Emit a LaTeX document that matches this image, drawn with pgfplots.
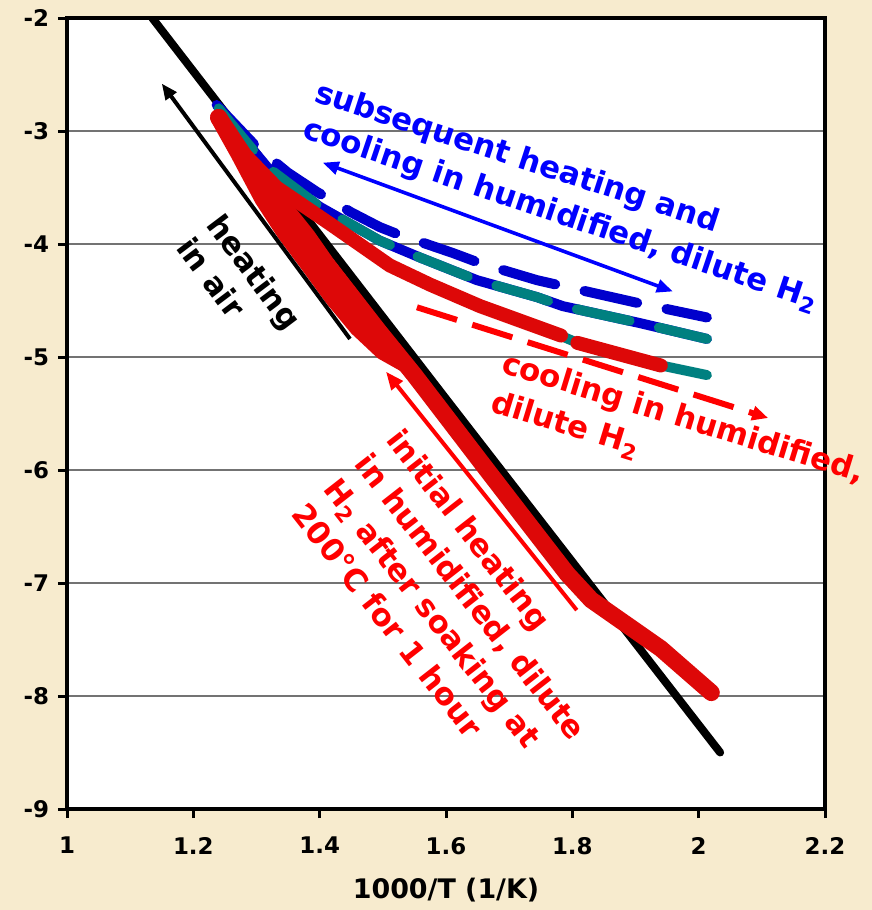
\documentclass[border=0pt]{standalone}
\usepackage{fontspec}
\setmainfont{DejaVu Sans}
\usepackage{pgfplots}
\pgfplotsset{compat=1.18}
\usetikzlibrary{arrows.meta}
\definecolor{bg}{RGB}{247,235,206}
\definecolor{lblue}{RGB}{0,0,204}
\definecolor{tblue}{RGB}{0,0,255}
\definecolor{tealc}{RGB}{0,128,128}
\definecolor{dred}{RGB}{221,8,8}
\definecolor{tred}{RGB}{255,0,0}
\newcommand{\annfont}{\fontsize{15.5}{19}\selectfont\bfseries}
\begin{document}
\begin{tikzpicture}
\fill[bg] (0,0) rectangle (436bp,455bp);
\begin{axis}[
  at={(33.5bp,50.5bp)}, anchor=south west,
  scale only axis, width=379bp, height=395.5bp,
  xmin=1, xmax=2.2, ymin=-9, ymax=-2,
  axis background/.style={fill=white},
  xtick={1,1.2,1.4,1.6,1.8,2,2.2}, ytick={-9,-8,-7,-6,-5,-4,-3,-2},
  /pgf/number format/assume math mode=true,
  tick label style={font=\fontsize{11.5}{13}\selectfont\bfseries},
  xticklabel style={yshift=-6bp},
  yticklabel style={xshift=-1bp},
  tick align=outside, tick pos=left,
  major tick length=4.5bp,
  tick style={line width=1.5bp, black},
  axis line style={line width=1.8bp},
  ymajorgrids, grid style={line width=0.6bp, black!55},
  xlabel={1000/T (1/K)},
  xlabel style={font=\fontsize{13.5}{15}\selectfont\bfseries, at={(axis description cs:0.5,0)}, anchor=north, yshift=-34.5bp, inner sep=0pt},
  clip mode=individual,
  every axis plot/.append style={line cap=round, line join=round},
]
% heating in air (black)
\addplot[black, line width=4bp] coordinates {(1.135,-2.0) (1.6,-5.37) (2.034,-8.5)};
% subsequent heating: blue dashed (upper)
\addplot[lblue, line width=5bp, dash pattern=on 27bp off 15bp] coordinates {
 (1.237,-2.77) (1.30,-3.14) (1.35,-3.37) (1.396,-3.54) (1.45,-3.72) (1.495,-3.85)
 (1.522,-3.91) (1.611,-4.08) (1.654,-4.17) (1.744,-4.32) (1.791,-4.38) (1.902,-4.52) (2.013,-4.65)};
% middle: blue solid with teal dashes
\addplot[lblue, line width=5bp] coordinates {
 (1.24,-2.80) (1.317,-3.32) (1.40,-3.67) (1.495,-3.97) (1.559,-4.12) (1.649,-4.32)
 (1.744,-4.47) (1.785,-4.55) (1.907,-4.70) (2.013,-4.84)};
\addplot[tealc, line width=5bp, dash pattern=on 27bp off 15bp] coordinates {
 (1.24,-2.80) (1.317,-3.32) (1.40,-3.67) (1.495,-3.97) (1.559,-4.12) (1.649,-4.32)
 (1.744,-4.47) (1.785,-4.55) (1.907,-4.70) (2.013,-4.84)};
% lower: teal solid under red cooling
\addplot[tealc, line width=5bp] coordinates {
 (1.24,-2.88) (1.28,-3.2) (1.332,-3.50) (1.416,-3.82) (1.511,-4.19) (1.575,-4.36)
 (1.654,-4.55) (1.785,-4.82) (1.808,-4.875) (1.945,-5.08) (2.013,-5.16)};
% initial heating (red): two close traces forming the band
\addplot[dred, line width=8.5bp] coordinates {
 (1.24,-2.88) (1.272,-3.2) (1.31,-3.6) (1.345,-3.9) (1.381,-4.17) (1.42,-4.47) (1.46,-4.74) (1.50,-4.95) (1.535,-5.06)};
\addplot[dred, line width=8.5bp] coordinates {
 (1.24,-2.88) (1.29,-3.3) (1.34,-3.65) (1.38,-3.93) (1.41,-4.17) (1.492,-4.76) (1.55,-5.16)
 (1.665,-6.0) (1.727,-6.45) (1.792,-6.92) (1.83,-7.15) (1.94,-7.58) (2.02,-7.97)};
% cooling (red, dashed end)
\addplot[dred, line width=7bp] coordinates {
 (1.24,-2.88) (1.28,-3.2) (1.332,-3.50) (1.416,-3.82) (1.511,-4.19) (1.575,-4.36)
 (1.654,-4.55) (1.782,-4.81)};
\addplot[dred, line width=7bp] coordinates {(1.808,-4.875) (1.94,-5.075)};
% annotation arrows
\draw[black, line width=2bp, -{Triangle[length=8bp,width=6.5bp]}] (axis cs:1.448,-4.84) -- (axis cs:1.150,-2.58);
\draw[tblue, line width=1.8bp, {Triangle[length=8bp,width=6.5bp]}-{Triangle[length=8bp,width=6.5bp]}] (axis cs:1.405,-3.28) -- (axis cs:1.959,-4.42);
\draw[tred, line width=2bp, -{Triangle[length=9bp,width=7bp]}] (axis cs:1.807,-7.24) -- (axis cs:1.505,-5.13);
\draw[tred, line width=3bp, dash pattern=on 21bp off 8bp, -{Triangle[length=8bp,width=7bp]}] (axis cs:1.554,-4.56) -- (axis cs:2.110,-5.54);
% texts
\node[tblue, font=\annfont, rotate=-18, anchor=base west, inner sep=0pt] at (axis cs:1.389,-2.735) {subsequent heating and};
\node[tblue, font=\annfont, rotate=-18.6, anchor=base west, inner sep=0pt] at (axis cs:1.370,-3.053) {cooling in humidified, dilute H\textsubscript{2}};
\node[black, font=\annfont, rotate=-53, anchor=base west, inner sep=0pt] at (axis cs:1.2185,-3.832) {heating};
\node[black, font=\annfont, rotate=-53, anchor=base west, inner sep=0pt] at (axis cs:1.171,-4.037) {in air};
\node[tred, font=\annfont, rotate=-17, anchor=base west, inner sep=0pt] at (axis cs:1.685,-5.133) {cooling in humidified,};
\node[tred, font=\annfont, rotate=-17, anchor=base west, inner sep=0pt] at (axis cs:1.668,-5.478) {dilute H\textsubscript{2}};
\node[tred, font=\annfont, rotate=-52, anchor=base west, inner sep=0pt] at (axis cs:1.5034,-5.735) {initial heating};
\node[tred, font=\annfont, rotate=-52, anchor=base west, inner sep=0pt] at (axis cs:1.4535,-5.952) {in humidified, dilute};
\node[tred, font=\annfont, rotate=-52, anchor=base west, inner sep=0pt] at (axis cs:1.4037,-6.170) {H\textsubscript{2} after soaking at};
\node[tred, font=\annfont, rotate=-52, anchor=base west, inner sep=0pt] at (axis cs:1.3538,-6.388) {200°C for 1 hour};
\end{axis}
\pgfresetboundingbox
\path (0,0) rectangle (436bp,455bp);
\end{tikzpicture}
\end{document}
